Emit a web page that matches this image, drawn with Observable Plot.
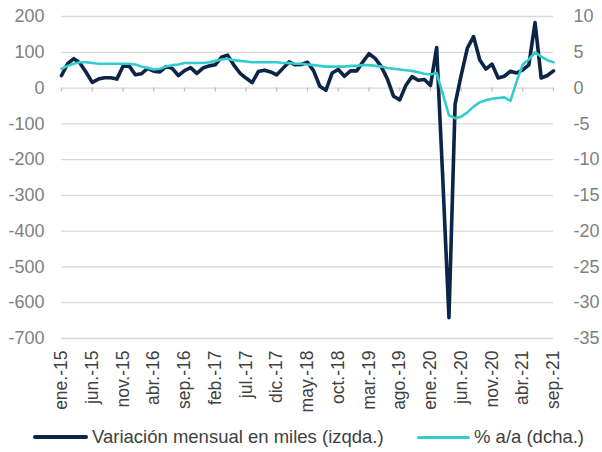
<!DOCTYPE html>
<html>
<head>
<meta charset="utf-8">
<script src="https://cdn.jsdelivr.net/npm/d3@7"></script>
<script src="https://cdn.jsdelivr.net/npm/@observablehq/plot@0.6"></script>
<style>
  html, body { margin: 0; padding: 0; background: #fff; }
  #wrap { width: 602px; position: relative; font-family: "Liberation Sans", Arial, sans-serif; }
  #legend { position: relative; height: 30px; width: 602px; color: #404040; font-size: 18.5px; }
  #legend .sw { position: absolute; height: 0; }
  #legend .lb { position: absolute; white-space: nowrap; line-height: 1; }
</style>
</head>
<body>
<div id="wrap">
  <div id="chart"></div>
  <div id="legend"></div>
</div>
<script>
// Monthly series, ene.-15 ... sep.-21 (81 months)
const mesesAbrev = ["ene.","feb.","mar.","abr.","may.","jun.","jul.","ago.","sep.","oct.","nov.","dic."];
const anios = ["15","16","17","18","19","20","21"];

// Variación mensual en miles (izqda.)
const variacionMensual = [
  35, 68, 82, 70, 44, 16, 25, 29, 29, 25, 61, 62,
  37, 40, 55, 47, 45, 60, 55, 35, 49, 57, 41, 56,
  62, 65, 86, 92, 65, 42, 28, 15, 46, 50, 45, 37,
  55, 73, 65, 66, 72, 48, 5, -6, 42, 52, 33, 48,
  48, 73, 96, 83, 60, 25, -23, -33, 8, 32, 22, 24,
  7, 113, -255, -642, -45, 37, 112, 144, 79, 53, 67, 28,
  33, 47, 42, 51, 65, 183, 28, 35, 48
];

// % a/a (dcha.)
const tasaInteranual = [
  2.7, 3.1, 3.4, 3.6, 3.6, 3.5, 3.4, 3.4, 3.4, 3.4, 3.4, 3.4,
  3.3, 3.0, 2.8, 2.6, 2.7, 3.0, 3.2, 3.3, 3.5, 3.5, 3.5, 3.5,
  3.6, 3.8, 4.0, 4.1, 3.9, 3.8, 3.7, 3.6, 3.6, 3.6, 3.6, 3.6,
  3.5, 3.5, 3.4, 3.4, 3.3, 3.2, 3.1, 3.0, 3.0, 3.0, 3.0, 3.1,
  3.1, 3.2, 3.2, 3.1, 3.0, 2.8, 2.7, 2.6, 2.5, 2.4, 2.2, 2.0,
  1.9, 2.1, -0.8, -3.8, -4.2, -4.0, -3.4, -2.6, -2.0, -1.7, -1.5, -1.4,
  -1.3, -1.8, 0.9, 3.3, 4.0, 5.0, 4.4, 3.9, 3.6
];

const ticksIzq = [200, 100, 0, -100, -200, -300, -400, -500, -600, -700];
const ticksDcha = [10, 5, 0, -5, -10, -15, -20, -25, -30, -35];
const etiquetasX = ["ene.-15","jun.-15","nov.-15","abr.-16","sep.-16","feb.-17","jul.-17","dic.-17","may.-18","oct.-18","mar.-19","ago.-19","ene.-20","jun.-20","nov.-20","abr.-21","sep.-21"];

const serieNombres = ["Variación mensual en miles (izqda.)", "% a/a (dcha.)"];
const colores = ["#0b2447", "#33cccc"];

// derived table
const meses = variacionMensual.map((v, i) => ({
  i,
  label: mesesAbrev[i % 12] + "-" + anios[Math.floor(i / 12)],
  mensual: v,
  interanual: tasaInteranual[i]
}));
const ratio = ticksIzq[0] / ticksDcha[0]; // 20
const tickIdx = etiquetasX.map(l => meses.findIndex(m => m.label === l));

const chart = Plot.plot({
  width: 602,
  height: 422,
  marginLeft: 61,
  marginRight: 49,
  marginTop: 16,
  marginBottom: 84,
  style: {fontFamily: "'Liberation Sans', Arial, sans-serif", fontSize: "18px", background: "#fff"},
  x: {domain: [0, meses.length - 1]},
  y: {domain: [ticksIzq[ticksIzq.length - 1], ticksIzq[0]]},
  marks: [
    Plot.ruleY(ticksIzq, {stroke: "#d9d9d9", strokeWidth: 1.3}),
    Plot.ruleX(tickIdx, {x: d => d, y1: 0, y2: -11, stroke: "#bfbfbf", strokeWidth: 1.3}),
    Plot.axisY(ticksIzq, {anchor: "left", tickSize: 0, tickPadding: 17, fill: "#7f7f7f", fontSize: 18, label: null, tickFormat: d => String(d)}),
    Plot.axisY(ticksDcha.map(t => t * ratio), {anchor: "right", tickSize: 0, tickPadding: 20, fill: "#7f7f7f", fontSize: 18, label: null, tickFormat: d => String(d / ratio)}),
    Plot.axisX(tickIdx, {anchor: "bottom", tickSize: 0, tickPadding: 12, tickRotate: -90, fill: "#404040", fontSize: 17.5, label: null, tickFormat: (d, k) => etiquetasX[k]}),
    Plot.line(meses, {x: "i", y: "mensual", stroke: colores[0], strokeWidth: 3.6, strokeLinejoin: "round", strokeLinecap: "round"}),
    Plot.line(meses, {x: "i", y: d => d.interanual * ratio, stroke: colores[1], strokeWidth: 2.6, strokeLinejoin: "round", strokeLinecap: "round"})
  ]
});
document.getElementById("chart").appendChild(chart);

// legend
const legend = document.getElementById("legend");
const legPos = [{sw: 33, swW: 55, tx: 92, th: 4}, {sw: 417, swW: 53, tx: 474, th: 3}];
serieNombres.forEach((name, k) => {
  const p = legPos[k];
  const sw = document.createElement("div");
  sw.className = "sw";
  sw.style.left = p.sw + "px";
  sw.style.width = p.swW + "px";
  sw.style.top = (15 - p.th / 2) + "px";
  sw.style.borderTop = p.th + "px solid " + colores[k];
  sw.style.borderRadius = "2px";
  legend.appendChild(sw);
  const lb = document.createElement("div");
  lb.className = "lb";
  lb.style.left = p.tx + "px";
  lb.style.top = "6px";
  lb.textContent = name;
  legend.appendChild(lb);
});
</script>
</body>
</html>
